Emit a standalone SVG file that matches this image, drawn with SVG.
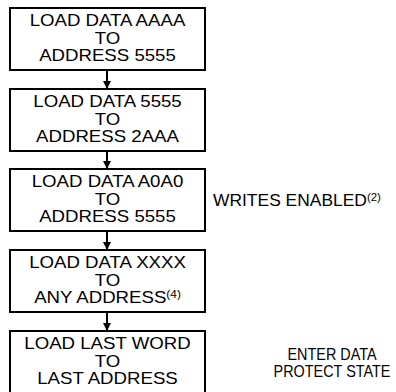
<svg xmlns="http://www.w3.org/2000/svg" width="396" height="392" viewBox="0 0 396 392">
  <style>
    .box { fill: #ffffff; stroke: #000000; stroke-width: 2; }
    .lbl { font-family: "Liberation Sans", Arial, Helvetica, sans-serif; font-size: 16.5px; fill: #000000; text-anchor: middle; }
    .side { font-family: "Liberation Sans", Arial, Helvetica, sans-serif; font-size: 16px; fill: #000000; }
    .note { font-family: "Liberation Sans", Arial, Helvetica, sans-serif; font-size: 16px; fill: #000000; text-anchor: middle; }
    .sup { font-size: 10.5px; }
    .conn { stroke: #000000; stroke-width: 2; fill: none; }
  </style>
  <defs>
    <marker id="arrow" markerWidth="8" markerHeight="8" refX="7" refY="4" orient="auto" markerUnits="userSpaceOnUse">
      <path d="M0,0 L8,4 L0,8 Z" fill="#000000"/>
    </marker>
  </defs>
  <rect width="396" height="392" fill="#ffffff"/>

  <!-- connectors between the steps -->
  <g id="connectors">
    <line class="conn" x1="107" y1="71" x2="107" y2="88" marker-end="url(#arrow)"/>
    <line class="conn" x1="107" y1="152" x2="107" y2="168" marker-end="url(#arrow)"/>
    <line class="conn" x1="107" y1="232" x2="107" y2="249" marker-end="url(#arrow)"/>
    <line class="conn" x1="107" y1="313" x2="107" y2="330" marker-end="url(#arrow)"/>
  </g>

  <g id="step1">
    <rect class="box" x="10" y="8" width="195" height="62"/>
    <g class="lbl" transform="translate(107.5 0) scale(1.13 1)">
      <text x="0" y="26.5">LOAD DATA AAAA</text>
      <text x="0" y="44">TO</text>
      <text x="0" y="61.5">ADDRESS 5555</text>
    </g>
  </g>

  <g id="step2">
    <rect class="box" x="10" y="89" width="195" height="62"/>
    <g class="lbl" transform="translate(107.5 0) scale(1.13 1)">
      <text x="0" y="107.5">LOAD DATA 5555</text>
      <text x="0" y="125">TO</text>
      <text x="0" y="142.5">ADDRESS 2AAA</text>
    </g>
  </g>

  <g id="step3">
    <rect class="box" x="10" y="169" width="195" height="62"/>
    <g class="lbl" transform="translate(107.5 0) scale(1.13 1)">
      <text x="0" y="187.5">LOAD DATA A0A0</text>
      <text x="0" y="205">TO</text>
      <text x="0" y="222.5">ADDRESS 5555</text>
    </g>
  </g>

  <g id="step4">
    <rect class="box" x="10" y="250" width="195" height="62"/>
    <g class="lbl" transform="translate(107.5 0) scale(1.13 1)">
      <text x="0" y="268.5">LOAD DATA XXXX</text>
      <text x="0" y="286">TO</text>
      <text x="0" y="303.5">ANY ADDRESS<tspan class="sup" dy="-5">(4)</tspan></text>
    </g>
  </g>

  <g id="step5">
    <rect class="box" x="10" y="331" width="195" height="62"/>
    <g class="lbl" transform="translate(107.5 0) scale(1.13 1)">
      <text x="0" y="349.5">LOAD LAST WORD</text>
      <text x="0" y="367">TO</text>
      <text x="0" y="384.5">LAST ADDRESS</text>
    </g>
  </g>

  <g id="writes-enabled">
    <g class="side" transform="translate(213 0) scale(1.09 1)">
      <text x="0" y="206.5">WRITES ENABLED<tspan class="sup" dy="-5">(2)</tspan></text>
    </g>
  </g>

  <g id="protect-state">
    <g class="note" transform="translate(332 0) scale(0.9 1)">
      <text x="0" y="360">ENTER DATA</text>
      <text x="0" y="377">PROTECT STATE</text>
    </g>
  </g>
</svg>
